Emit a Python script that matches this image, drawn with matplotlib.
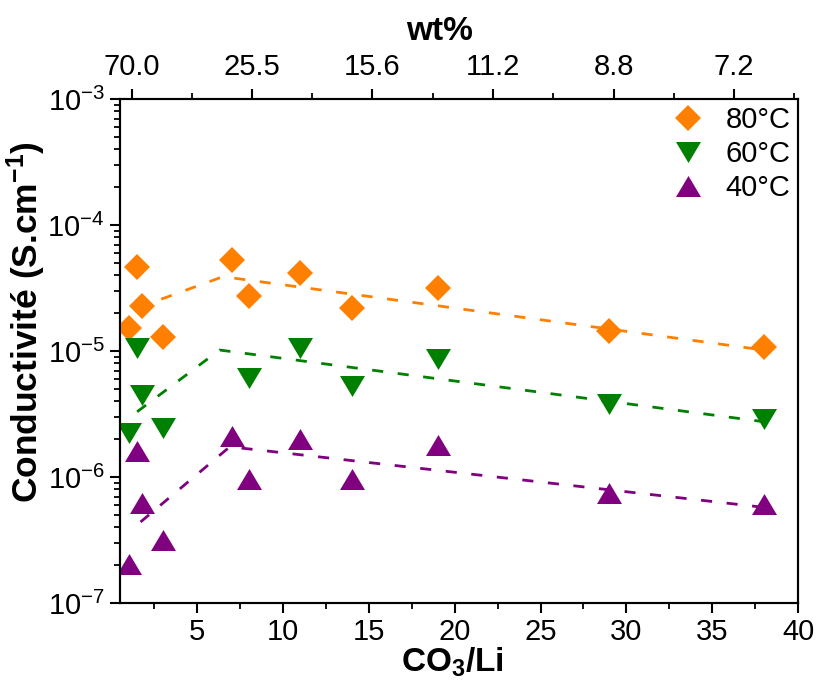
import matplotlib
matplotlib.use("Agg")
import matplotlib.pyplot as plt
import numpy as np
from matplotlib.ticker import LogLocator, FixedLocator, NullFormatter

plt.rcParams['font.family'] = ['Liberation Sans', 'DejaVu Sans']
plt.rcParams['mathtext.fontset'] = 'custom'
plt.rcParams['mathtext.rm'] = 'Liberation Sans'
plt.rcParams['mathtext.bf'] = 'Liberation Sans:bold'
plt.rcParams['mathtext.default'] = 'regular'
plt.rcParams['lines.scale_dashes'] = False
plt.rcParams['axes.unicode_minus'] = False

# ---------------- data ----------------
x_80 = [1, 1.5, 1.8, 3, 7, 8, 11, 14, 19, 29, 38]
y_80 = [1.52e-5, 4.64e-5, 2.28e-5, 1.30e-5, 5.27e-5, 2.73e-5, 4.14e-5, 2.21e-5, 3.18e-5, 1.45e-5, 1.07e-5]
x_60 = [1.5, 1.8, 1, 3, 8, 11, 14, 19, 29, 38]
y_60 = [1.05e-5, 4.49e-6, 2.25e-6, 2.47e-6, 6.07e-6, 1.05e-5, 5.32e-6, 8.72e-6, 3.78e-6, 2.91e-6]
x_40 = [1.5, 1.8, 1, 3, 7, 8, 11, 14, 19, 29, 38]
y_40 = [1.60e-6, 6.2e-7, 2.05e-7, 3.15e-7, 2.12e-6, 9.7e-7, 2.0e-6, 9.7e-7, 1.8e-6, 7.43e-7, 6.08e-7]

fit_x_80 = [1.5, 6.5, 38]
fit_y_80 = [2.2e-5, 3.9e-5, 1.02e-5]
fit_x_60 = [1.5, 6.3, 38]
fit_y_60 = [3.3e-6, 1.02e-5, 2.75e-6]
fit_x_40 = [1.7, 6.9, 38]
fit_y_40 = [4.4e-7, 1.74e-6, 5.75e-7]

labels = ['80°C', '60°C', '40°C']
top_tick_pos = [1.2, 8.2, 15.2, 22.25, 29.25, 36.25]
top_tick_labels = ['70.0', '25.5', '15.6', '11.2', '8.8', '7.2']

c80, c60, c40 = '#FF8000', '#008000', '#800080'

# ---------------- figure ----------------
fig = plt.figure(figsize=(8.16, 6.84), dpi=100)
ax = fig.add_axes([0.147, 0.1184, 0.831, 0.7366])

tri_up = [(-1, -0.84), (1, -0.84), (0, 0.84)]
tri_dn = [(-1, 0.84), (1, 0.84), (0, -0.84)]

ax.plot(x_80, y_80, linestyle='none', marker='D', ms=13.6, color=c80, mec=c80, mew=0, label=labels[0], zorder=3)
ax.plot(x_60, y_60, linestyle='none', marker=tri_dn, ms=18, color=c60, mec=c60, mew=0, label=labels[1], zorder=3)
ax.plot(x_40, y_40, linestyle='none', marker=tri_up, ms=18, color=c40, mec=c40, mew=0, label=labels[2], zorder=3)

for fx, fy, c in [(fit_x_80, fit_y_80, c80), (fit_x_60, fit_y_60, c60), (fit_x_40, fit_y_40, c40)]:
    ax.plot(fx, fy, linestyle=(0, (8, 10.5)), lw=2.0, color=c, zorder=4)

ax.set_yscale('log')
ax.set_xlim(0.5, 40)
ax.set_ylim(1e-7, 1e-3)

ax.xaxis.set_major_locator(FixedLocator([5, 10, 15, 20, 25, 30, 35, 40]))
ax.xaxis.set_minor_locator(FixedLocator([2.5, 7.5, 12.5, 17.5, 22.5, 27.5, 32.5, 37.5]))
ax.yaxis.set_major_locator(LogLocator(base=10, numticks=10))
ax.yaxis.set_minor_locator(LogLocator(base=10, subs=np.arange(2, 10), numticks=20))
ax.yaxis.set_minor_formatter(NullFormatter())

for s in ax.spines.values():
    s.set_linewidth(1.5)

ax.tick_params(which='major', direction='out', length=7, width=1.5, labelsize=21, pad=4)
ax.tick_params(which='minor', direction='out', length=4, width=1.3)
ax.tick_params(axis='y', which='major', pad=4)
ax.tick_params(top=False, right=False, which='both')

ax.set_xlabel('CO$_{\\mathbf{3}}$/Li', fontsize=24, fontweight='bold')
ax.xaxis.set_label_coords(0.49, -0.084)
ax.set_ylabel('Conductivité (S.cm$^{\\mathbf{-1}}$)', fontsize=25.5, fontweight='bold')
ax.yaxis.set_label_coords(-0.106, 0.557)

# top axis
ax2 = ax.twiny()
ax2.set_xlim(ax.get_xlim())
ax2.xaxis.set_major_locator(FixedLocator(top_tick_pos))
minor_top = [(a + b) / 2 for a, b in zip(top_tick_pos[:-1], top_tick_pos[1:])] + [top_tick_pos[-1] + 3.5]
ax2.xaxis.set_minor_locator(FixedLocator(minor_top))
ax2.set_xticklabels(top_tick_labels)
ax2.tick_params(which='major', direction='out', length=7, width=1.5, labelsize=21, pad=6)
ax2.tick_params(which='minor', direction='out', length=4, width=1.3)
ax2.set_xlabel('wt%', fontsize=24, fontweight='bold')
ax2.xaxis.set_label_coords(0.472, 1.118)
for s in ax2.spines.values():
    s.set_linewidth(1.5)

leg = ax.legend(loc='upper right', frameon=False, fontsize=21, handletextpad=0.7,
                labelspacing=0.2, borderaxespad=0.0, borderpad=0.25, handlelength=1.2)

fig.savefig('out.png', dpi=100)
